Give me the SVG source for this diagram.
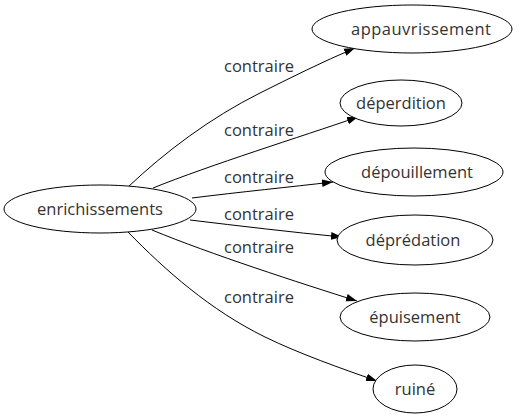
<svg xmlns="http://www.w3.org/2000/svg" width="521" height="419" viewBox="0 0 521 419">
<defs>
<marker id="arr" viewBox="0 0 10 10" refX="10" refY="5" markerWidth="11" markerHeight="11" markerUnits="userSpaceOnUse" orient="auto">
<path d="M0,1.5 L10,5 L0,8.5 Z" fill="#000"/>
</marker>
<style>
.n ellipse{fill:#fff;stroke:#000;stroke-width:1}
text{font-family:"Open Sans","DejaVu Sans",sans-serif;font-size:16.5px;fill:#333;text-anchor:middle}
.e path{fill:none;stroke:#000;stroke-width:1}
</style>
</defs>
<rect width="521" height="419" fill="#fff"/>
<g class="e" id="edges">
<path d="M128,187 C165,152 210,118 260,93 C290,78 322,62 355,48" marker-end="url(#arr)"/>
<path d="M153,188 C210,165 300,137 358,117" marker-end="url(#arr)"/>
<path d="M192,198 C240,192 290,187 333,182" marker-end="url(#arr)"/>
<path d="M190,220 C240,226 290,232 342,237" marker-end="url(#arr)"/>
<path d="M152,230 C210,254 300,283 357,301" marker-end="url(#arr)"/>
<path d="M128,232 C165,270 210,310 265,337 C300,354 340,368 377,381" marker-end="url(#arr)"/>
</g>
<g id="labels">
<text x="259" y="72">contraire</text>
<text x="259" y="136">contraire</text>
<text x="259" y="183">contraire</text>
<text x="259" y="220">contraire</text>
<text x="259" y="253">contraire</text>
<text x="259" y="303">contraire</text>
</g>
<g class="n" id="enrichissements"><ellipse cx="100" cy="209" rx="96" ry="24"/><text x="100" y="215">enrichissements</text></g>
<g class="n" id="appauvrissement"><ellipse cx="412" cy="29" rx="100" ry="24"/><text x="421" y="35" textLength="140">appauvrissement</text></g>
<g class="n" id="deperdition"><ellipse cx="401" cy="103" rx="61" ry="23"/><text x="401" y="109">déperdition</text></g>
<g class="n" id="depouillement"><ellipse cx="414" cy="172" rx="89" ry="24"/><text x="417" y="178">dépouillement</text></g>
<g class="n" id="depredation"><ellipse cx="415" cy="240" rx="78" ry="25"/><text x="413" y="246">déprédation</text></g>
<g class="n" id="epuisement"><ellipse cx="415" cy="317" rx="75" ry="24"/><text x="415" y="323">épuisement</text></g>
<g class="n" id="ruine"><ellipse cx="415" cy="389" rx="42" ry="24"/><text x="415" y="395">ruiné</text></g>
</svg>
